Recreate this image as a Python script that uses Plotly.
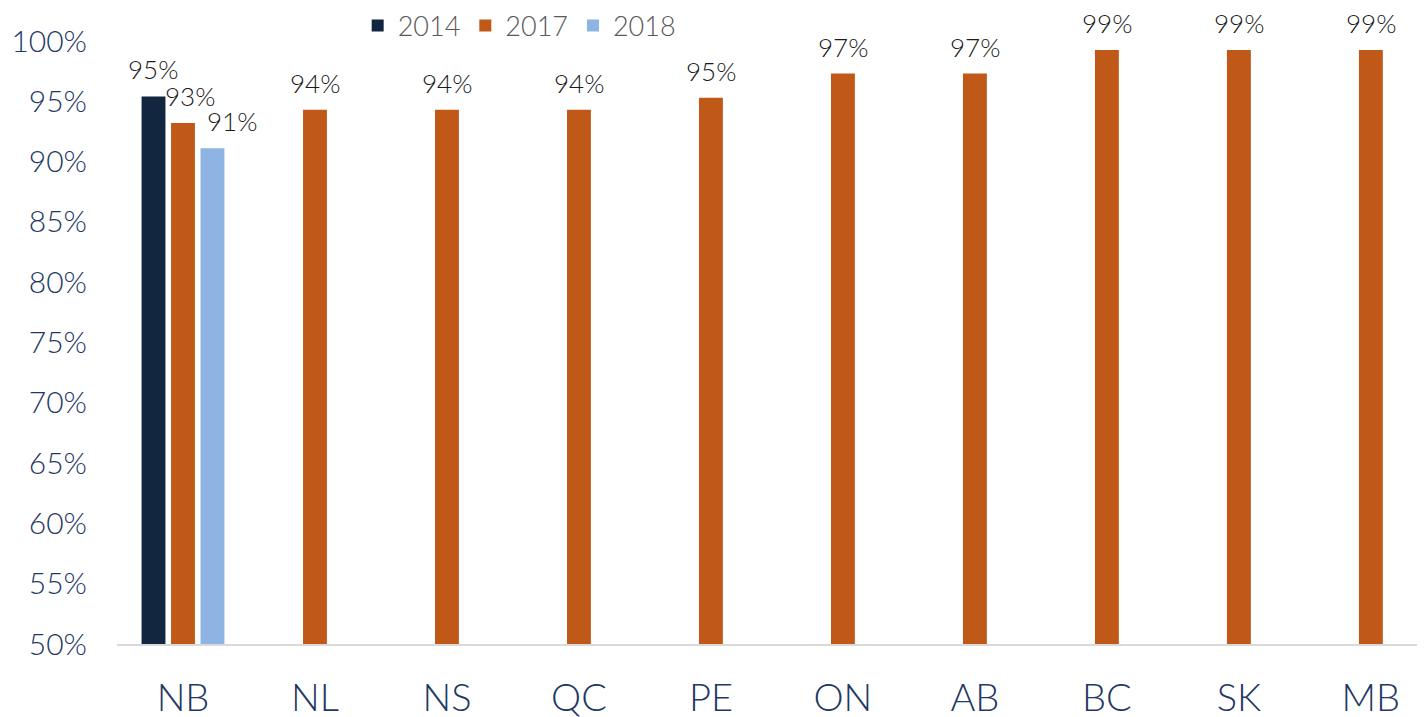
import plotly.graph_objects as go

categories = ["NB", "NL", "NS", "QC", "PE", "ON", "AB", "BC", "SK", "MB"]
series_names = ["2014", "2017", "2018"]
values_2014 = [95.4, None, None, None, None, None, None, None, None, None]
values_2017 = [93.2, 94.3, 94.3, 94.3, 95.3, 97.3, 97.3, 99.25, 99.25, 99.25]
values_2018 = [91.1, None, None, None, None, None, None, None, None, None]
y_ticks = [50, 55, 60, 65, 70, 75, 80, 85, 90, 95, 100]
y_tick_labels = [f"{v}%" for v in y_ticks]

colors = ["#12263f", "#c05818", "#8eb4e3"]
FONT = "Lato"
# horizontal pixel nudge of each series' data labels (2014, 2017, 2018 slots in a group)
label_xshift = [-30, 7, 49]
label_xshift_single = 0

fig = go.Figure()
all_series = [values_2014, values_2017, values_2018]
for name, vals, col in zip(series_names, all_series, colors):
    fig.add_trace(go.Bar(
        name=name, x=categories, y=vals,
        marker=dict(color=col, line=dict(width=0)),
        cliponaxis=False,
    ))

# data labels
for si, vals in enumerate(all_series):
    for ci, v in enumerate(vals):
        if v is None:
            continue
        n_in_group = sum(1 for s in all_series if s[ci] is not None)
        xs = label_xshift[si] if n_in_group > 1 else label_xshift_single
        fig.add_annotation(
            x=categories[ci], y=v, text=f"{round(v):.0f}%",
            showarrow=False, xanchor="center", yanchor="bottom",
            xshift=xs, yshift=9,
            font=dict(family=FONT, size=26, color="#1a1a1a", weight=300),
        )

fig.update_layout(
    width=1425, height=717,
    margin=dict(l=109, r=8, t=33, b=81, autoexpand=False),
    paper_bgcolor="white", plot_bgcolor="white",
    barmode="group", bargap=0.33, bargroupgap=0.19,
    showlegend=True,
    legend=dict(orientation="h", x=0.184, xanchor="left", y=1.025, yanchor="middle",
                font=dict(family=FONT, size=27, color="#595959", weight=300),
                itemwidth=30, traceorder="normal", bgcolor="rgba(0,0,0,0)"),
)
fig.update_yaxes(range=[50, 100], tickvals=y_ticks, ticktext=y_tick_labels,
                 showgrid=False, zeroline=False, showline=False,
                 tickfont=dict(family=FONT, size=30, color="#1f3864", weight=300),
                 ticklabelstandoff=29)
fig.update_xaxes(range=[-0.5, 9.41], showgrid=False, showline=True,
                 linecolor="#d9d9d9", linewidth=2,
                 tickfont=dict(family=FONT, size=38, color="#1f3864", weight=300),
                 ticklabelstandoff=19)

fig.write_html("out.html")
